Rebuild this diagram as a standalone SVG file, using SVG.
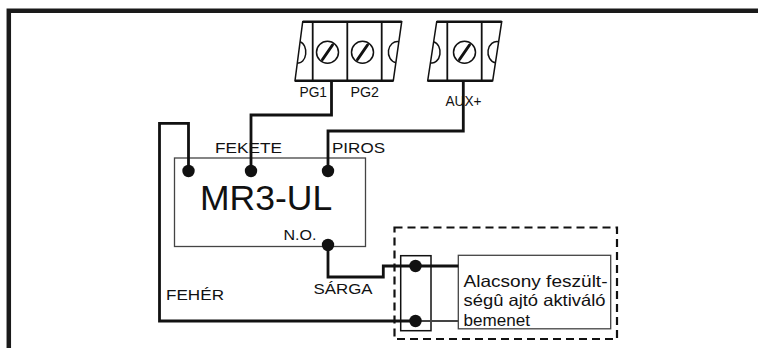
<svg xmlns="http://www.w3.org/2000/svg" width="758" height="348" viewBox="0 0 758 348">
<defs>
<style>
.frame{fill:none;stroke:#1a1a1a;stroke-width:4.5}
.tb{fill:none;stroke:#111;stroke-width:1.5}
.tbh{stroke:#111;stroke-width:2.4}
.div{stroke:#111;stroke-width:1.8}
.screw{fill:#fff;stroke:#111;stroke-width:1.5}
.slash{stroke:#111;stroke-width:3;stroke-linecap:round}
.wire{fill:none;stroke:#111;stroke-width:2.8;stroke-linejoin:miter}
.thin{fill:none;stroke:#444;stroke-width:2}
.dot{fill:#111}
.box{fill:none;stroke:#444;stroke-width:1.3}
.dash{fill:none;stroke:#111;stroke-width:2.2;stroke-dasharray:8 5}
text{font-family:"Liberation Sans",Arial,sans-serif;fill:#111}
.lbl{font-size:15.5px}
.tl{font-size:14.5px}
</style>
</defs>
<rect width="758" height="348" fill="#fff"/>
<path class="frame" d="M8.8,348 V10.8 H758"/>

<g id="terminal-pg">
<path class="tb" d="M302.7,21.7 L401.7,21.7 L393.3,80.7 L295,80.7 Z"/>
<line class="tbh" x1="302.7" y1="21.7" x2="401.7" y2="21.7"/>
<line class="tbh" x1="295" y1="80.7" x2="393.3" y2="80.7"/>
<line class="div" x1="312.7" y1="21.7" x2="312.7" y2="80.7"/>
<line class="div" x1="347.3" y1="21.7" x2="347.3" y2="80.7"/>
<line class="div" x1="381.7" y1="21.7" x2="381.7" y2="80.7"/>
<path class="tb" d="M300.1,41.7 A7 10.6 0 0 1 297.4,62.7"/>
<path class="tb" d="M398.9,41.7 A9 10.6 0 0 0 395.9,62.7"/>
<circle class="screw" cx="327.5" cy="52.3" r="11"/>
<line class="slash" x1="322.5" y1="59.5" x2="332.5" y2="45"/>
<circle class="screw" cx="362.5" cy="52.3" r="11"/>
<line class="slash" x1="357.5" y1="59.5" x2="367.5" y2="45"/>
<text class="tl" x="299.5" y="97" textLength="27.5" lengthAdjust="spacingAndGlyphs">PG1</text>
<text class="tl" x="350.5" y="97" textLength="28.5" lengthAdjust="spacingAndGlyphs">PG2</text>
</g>

<g id="terminal-aux">
<path class="tb" d="M436.7,21.7 L501.7,21.7 L492.7,80.7 L427.7,80.7 Z"/>
<line class="tbh" x1="436.7" y1="21.7" x2="501.7" y2="21.7"/>
<line class="tbh" x1="427.7" y1="80.7" x2="492.7" y2="80.7"/>
<line class="div" x1="447.3" y1="21.7" x2="447.3" y2="80.7"/>
<line class="div" x1="481.7" y1="21.7" x2="481.7" y2="80.7"/>
<path class="tb" d="M433.6,41.7 A8 10.6 0 0 1 430.4,62.7"/>
<path class="tb" d="M498.6,41.7 A9 10.6 0 0 0 495.4,62.7"/>
<circle class="screw" cx="464.5" cy="52.3" r="11"/>
<line class="slash" x1="459.5" y1="59.5" x2="469.5" y2="45"/>
<text class="tl" x="445.5" y="105.5" textLength="36" lengthAdjust="spacingAndGlyphs">AUX+</text>
</g>

<g id="mr3-ul">
<rect class="box" x="174.5" y="158" width="191" height="88.5"/>
<text x="200" y="210" font-size="35.5">MR3-UL</text>
<text class="lbl" x="215" y="152.5" textLength="67" lengthAdjust="spacingAndGlyphs">FEKETE</text>
<text class="lbl" x="332" y="152.5" textLength="53" lengthAdjust="spacingAndGlyphs">PIROS</text>
<text class="lbl" x="283.5" y="240" textLength="33" lengthAdjust="spacingAndGlyphs">N.O.</text>
</g>

<g id="door-input">
<rect class="dash" x="394.5" y="227.5" width="222.5" height="111.5"/>
<rect class="tb" x="400.7" y="255.7" width="30.3" height="75"/>
<rect class="box" x="458.3" y="255.3" width="152.4" height="73.5"/>
<text font-size="16.5" x="463.5" y="286.7" textLength="144" lengthAdjust="spacingAndGlyphs">Alacsony feszült-</text>
<text font-size="16.5" x="463.5" y="306" textLength="142" lengthAdjust="spacingAndGlyphs">ségû ajtó aktiváló</text>
<text font-size="16.5" x="463.5" y="325.5" textLength="66.5" lengthAdjust="spacingAndGlyphs">bemenet</text>
</g>

<g id="connectors">
<path class="wire" d="M188.5,171 V123.3 H159.5 V321 H415.5"/>
<path class="wire" d="M251,171 V115 H331.5 V80.7"/>
<path class="wire" d="M328,171 V131 H463.3 V80.7"/>
<path class="wire" d="M328,245 V277 H383.3 V266 H458.3"/>
<path class="thin" d="M415.5,321 H458.3"/>
<circle class="dot" cx="188.5" cy="171" r="6.2"/>
<circle class="dot" cx="251" cy="171" r="6.2"/>
<circle class="dot" cx="328" cy="171" r="6.2"/>
<circle class="dot" cx="328" cy="245" r="6.2"/>
<circle class="dot" cx="415.5" cy="266" r="6.2"/>
<circle class="dot" cx="415.5" cy="321" r="6.2"/>
<text class="lbl" x="166" y="300" textLength="58" lengthAdjust="spacingAndGlyphs">FEHÉR</text>
<text class="lbl" x="313.5" y="294" textLength="59" lengthAdjust="spacingAndGlyphs">SÁRGA</text>
</g>
</svg>
